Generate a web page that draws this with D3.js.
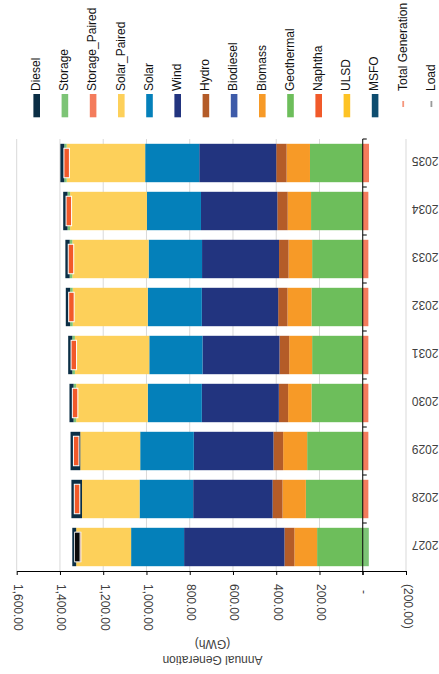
<!DOCTYPE html>
<html>
<head>
<meta charset="utf-8">
<script src="https://cdn.jsdelivr.net/npm/d3@7"></script>
<style>
  html, body { margin: 0; padding: 0; background: #fff; }
  svg { display: block; font-family: "Liberation Sans", Arial, sans-serif; }
</style>
</head>
<body>
<svg id="chart" width="439" height="674"></svg>
<script>
// ---- data ----
const years = ["2027","2028","2029","2030","2031","2032","2033","2034","2035"];
const MSFO          = [0,0,0,0,0,0,0,0,0];
const ULSD          = [0,0,0,0,0,0,0,0,0];
const Naphtha       = [0,0,0,0,0,0,0,0,0];
const Geothermal    = [211,263,257,237,234,237,234,239,244];
const Biomass       = [105,108,111,108,106,111,109,108,108];
const Biodiesel     = [0,0,0,0,0,0,0,0,0];
const Hydro         = [46,46,45,43,45,43,44,48,48];
const Wind          = [464,367,368,356,356,353,356,353,356];
const Solar         = [245,248,248,250,246,250,247,250,250];
const Solar_Paired  = [254,266,277,331,344,347,353,355,363];
const Storage_Paired= [0,-26,-26,-26,-26,-26,-26,-26,-29];
const Storage       = [-28,0,0,12,12,12,12,12,11];
const Diesel        = [18,49,45,19,19,20,20,20,18];
const TotalGeneration = [1316,1321,1325,1330,1336,1347,1349,1359,1369];
const Load          = [1320,null,null,null,null,null,null,null,null];

const tickValues = [1600,1400,1200,1000,800,600,400,200,0,-200];
const tickLabels = ["1,600.00","1,400.00","1,200.00","1,000.00","800.00","600.00","400.00","200.00","-","(200.00)"];

const legendNames = ["Diesel","Storage","Storage_Paired","Solar_Paired","Solar","Wind","Hydro","Biodiesel","Biomass","Geothermal","Naphtha","ULSD","MSFO","Total Generation","Load"];
const colors = {
  Diesel:"#0B2E45", Storage:"#7DC476", Storage_Paired:"#F47C5C", Solar_Paired:"#FDD05A",
  Solar:"#0480BA", Wind:"#22347F", Hydro:"#B45C28", Biodiesel:"#3E5BA9", Biomass:"#F79A27",
  Geothermal:"#6DBE5B", Naphtha:"#F15A2A", ULSD:"#FDC325", MSFO:"#0E4D6F",
  "Total Generation":"#F6967C", Load:"#9A9A9A"
};

// ---- build ----
const seriesArrays = {MSFO, ULSD, Naphtha, Geothermal, Biomass, Biodiesel, Hydro, Wind, Solar, Solar_Paired, Storage_Paired, Storage, Diesel};
const stackKeys = Object.keys(seriesArrays);
const rows = years.map((y,i) => {
  const r = {year:y};
  stackKeys.forEach(k => r[k] = seriesArrays[k][i]);
  return r;
});

const svg = d3.select("#chart");
const plotTop = 139, plotBottom = 571;
const x = d3.scaleLinear().domain([1600,-200]).range([16.7,406]);
const y = d3.scaleBand().domain(years.slice().reverse()).range([plotTop, plotBottom]).paddingInner(0.2).paddingOuter(0.1);

const textColor = "#404040";

// gridlines
svg.append("g").selectAll("line").data(tickValues.filter(d => d !== 0)).join("line")
  .attr("x1", d => x(d)).attr("x2", d => x(d))
  .attr("y1", plotTop).attr("y2", plotBottom)
  .attr("stroke", "#D9D9D9").attr("stroke-width", 1);

// stacked bars
const stacked = d3.stack().keys(stackKeys).offset(d3.stackOffsetDiverging)(rows);
svg.append("g").selectAll("g").data(stacked).join("g")
  .attr("fill", s => colors[s.key])
  .selectAll("rect").data(s => s).join("rect")
  .attr("x", d => Math.min(x(d[0]), x(d[1])))
  .attr("width", d => Math.abs(x(d[0]) - x(d[1])))
  .attr("y", d => y(d.data.year))
  .attr("height", y.bandwidth());

// markers
const mW = 5.5, mH = 29.5;
svg.append("g").selectAll("rect").data(years.map((yr,i)=>({yr, v:TotalGeneration[i]})).filter(d=>d.v!=null)).join("rect")
  .attr("x", d => x(d.v) - mW/2).attr("y", d => y(d.yr) + y.bandwidth()/2 - mH/2)
  .attr("width", mW).attr("height", mH)
  .attr("fill", "#F2592A").attr("stroke", "#fff").attr("stroke-width", 1);
svg.append("g").selectAll("rect").data(years.map((yr,i)=>({yr, v:Load[i]})).filter(d=>d.v!=null)).join("rect")
  .attr("x", d => x(d.v) - mW/2).attr("y", d => y(d.yr) + y.bandwidth()/2 - mH/2)
  .attr("width", mW).attr("height", mH)
  .attr("fill", "#0a0a0a").attr("stroke", "#C8C8C8").attr("stroke-width", 1);

// category axis (zero line)
const x0 = x(0);
svg.append("line").attr("x1", x0).attr("x2", x0).attr("y1", plotTop).attr("y2", plotBottom + 4)
  .attr("stroke", "#000").attr("stroke-width", 1);
const bounds = years.map(yr => y(yr) - (y.step() - y.bandwidth())/2);
svg.append("g").selectAll("line").data(bounds).join("line")
  .attr("x1", x0).attr("x2", x0 + 4).attr("y1", d => d).attr("y2", d => d)
  .attr("stroke", "#000").attr("stroke-width", 1);

// year labels (upside down)
svg.append("g").selectAll("text").data(years).join("text")
  .attr("transform", d => `translate(438.5,${y(d) + y.bandwidth()/2 - 2}) rotate(180)`)
  .attr("text-anchor", "start").attr("dominant-baseline", "central")
  .attr("font-size", 12).attr("fill", textColor)
  .text(d => d);

// value axis
const xAxis = d3.axisBottom(x).tickValues(tickValues).tickSize(4).tickSizeOuter(0)
  .tickFormat((d,i) => tickLabels[i]);
const gx = svg.append("g").attr("transform", `translate(0,${plotBottom})`).call(xAxis);
gx.select(".domain").attr("stroke", "#000");
gx.selectAll(".tick line").attr("stroke", "#000");
gx.selectAll(".tick text")
  .attr("fill", textColor).attr("font-size", 12)
  .attr("font-family", "Liberation Sans, Arial, sans-serif")
  .attr("y", null).attr("dy", null)
  .attr("text-anchor", "start").attr("dominant-baseline", "central")
  .attr("transform", d => `translate(1,${d === 0 ? 19 : 13}) rotate(90)`);

// axis title (upside down)
svg.append("text").attr("transform", "translate(212.5,660) rotate(180)")
  .attr("text-anchor", "middle").attr("dominant-baseline", "central")
  .attr("font-size", 12).attr("fill", textColor).text("Annual Generation");
svg.append("text").attr("transform", "translate(212.5,644) rotate(180)")
  .attr("text-anchor", "middle").attr("dominant-baseline", "central")
  .attr("font-size", 12).attr("fill", textColor).text("(GWh)");

// legend
const legendX = d3.scalePoint().domain(legendNames).range([36.7, 431.5]);
const lg = svg.append("g").selectAll("g").data(legendNames).join("g")
  .attr("transform", d => `translate(${legendX(d)},0)`);
lg.append("rect")
  .attr("x", d => (d === "Total Generation" || d === "Load") ? -1 : -3.3)
  .attr("y", d => (d === "Total Generation" || d === "Load") ? 101 : 94)
  .attr("width", d => (d === "Total Generation" || d === "Load") ? 1.8 : 6.6)
  .attr("height", d => (d === "Total Generation" || d === "Load") ? 6 : 23.3)
  .attr("fill", d => colors[d]);
lg.append("text")
  .attr("transform", "translate(3.2,91) rotate(-90)")
  .attr("text-anchor", "start")
  .attr("font-size", 12).attr("fill", "#111")
  .text(d => d);
</script>
</body>
</html>
